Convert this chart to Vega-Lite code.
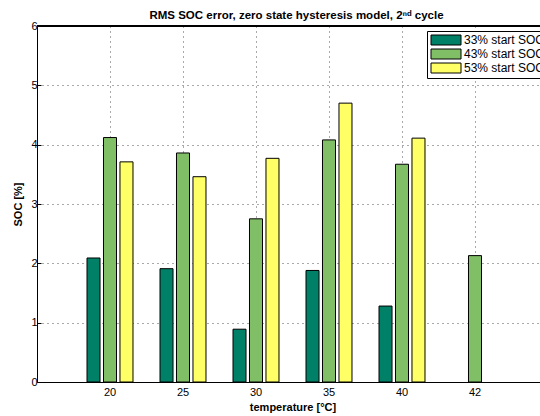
{
  "$schema": "https://vega.github.io/schema/vega-lite/v6.json",
  "width": 503,
  "height": 356,
  "autosize": "none",
  "padding": {"left": 37, "top": 26, "right": 0, "bottom": 34},
  "title": {"text": "RMS SOC error, zero state hysteresis model, 2ⁿᵈ cycle", "fontSize": 11.5, "font": "Liberation Sans", "fontWeight": "bold", "anchor": "middle", "offset": -1, "color": "black", "dx": 8},
  "config": {"view": {"stroke": null}, "font": "Liberation Sans"},
  "data": {"values": [
    {"temperature": "20", "series": "33% start SOC", "value": 2.09},
    {"temperature": "20", "series": "43% start SOC", "value": 4.12},
    {"temperature": "20", "series": "53% start SOC", "value": 3.71},
    {"temperature": "25", "series": "33% start SOC", "value": 1.91},
    {"temperature": "25", "series": "43% start SOC", "value": 3.86},
    {"temperature": "25", "series": "53% start SOC", "value": 3.46},
    {"temperature": "30", "series": "33% start SOC", "value": 0.89},
    {"temperature": "30", "series": "43% start SOC", "value": 2.75},
    {"temperature": "30", "series": "53% start SOC", "value": 3.77},
    {"temperature": "35", "series": "33% start SOC", "value": 1.88},
    {"temperature": "35", "series": "43% start SOC", "value": 4.08},
    {"temperature": "35", "series": "53% start SOC", "value": 4.70},
    {"temperature": "40", "series": "33% start SOC", "value": 1.28},
    {"temperature": "40", "series": "43% start SOC", "value": 3.67},
    {"temperature": "40", "series": "53% start SOC", "value": 4.11},
    {"temperature": "42", "series": "43% start SOC", "value": 2.13}
  ]},
  "layer": [
    {
      "mark": {"type": "bar", "stroke": "black", "strokeWidth": 1},
      "encoding": {
        "x": {
          "field": "temperature", "type": "nominal", "sort": null,
          "scale": {"range": [0, 511], "paddingInner": 0, "paddingOuter": 0.5},
          "axis": {"title": "temperature [°C]", "labelAngle": 0, "bandPosition": 0.5, "ticks": false, "labelPadding": 4, "grid": true, "gridDash": [1, 4], "gridColor": "#555", "domainColor": "black", "labelFontSize": 11, "labelColor": "black", "titlePadding": 4, "titleFontWeight": "bold", "titleFontSize": 11, "titleColor": "black"}
        },
        "xOffset": {
          "field": "series", "type": "nominal",
          "scale": {"domain": ["33% start SOC", "43% start SOC", "53% start SOC"], "paddingInner": 0.21, "paddingOuter": 0.82}
        },
        "y": {
          "field": "value", "type": "quantitative",
          "scale": {"domain": [0, 6], "nice": false},
          "axis": {"values": [0, 1, 2, 3, 4, 5, 6], "format": "d", "title": "SOC [%]", "titleFontSize": 11, "titleFontWeight": "bold", "titleColor": "black", "labelFontSize": 11, "labelColor": "black", "domainColor": "black", "tickColor": "black", "tickSize": -4, "labelPadding": 4, "grid": true, "gridColor": "#555", "gridDash": [1, 4], "titlePadding": 7}
        },
        "color": {
          "field": "series", "type": "nominal",
          "scale": {"domain": ["33% start SOC", "43% start SOC", "53% start SOC"], "range": ["#008066", "#80BF66", "#FFFF66"]},
          "legend": {"title": null, "orient": "none", "legendX": 390, "legendY": 5, "strokeColor": "black", "fillColor": "white", "padding": 3, "symbolType": "M-1,-1H5V1H-1Z", "symbolSize": 100, "symbolStrokeColor": "black", "symbolStrokeWidth": 1, "symbolOpacity": 1, "labelFontSize": 12, "labelOffset": 22, "rowPadding": 0, "labelColor": "black", "labelFont": "Liberation Sans"}
        }
      }
    },
    {
      "mark": {"type": "rule", "color": "black"},
      "encoding": {"y": {"datum": 6}}
    }
  ]
}
